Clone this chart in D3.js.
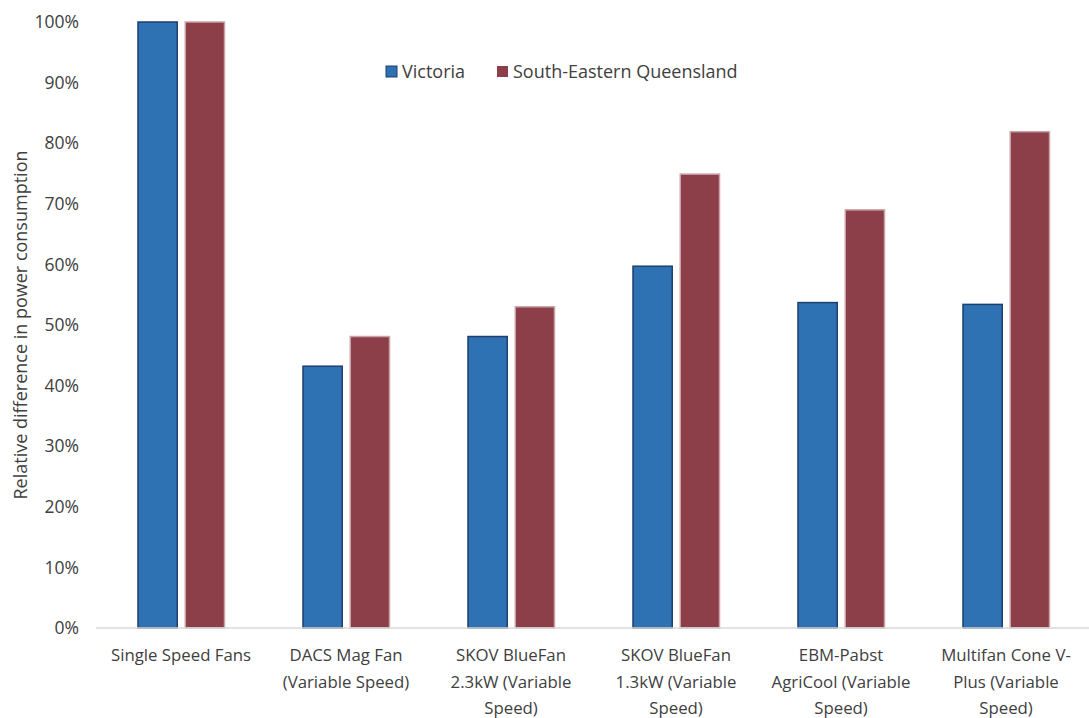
<!DOCTYPE html>
<html>
<head>
<meta charset="utf-8">
<script src="https://cdn.jsdelivr.net/npm/d3@7"></script>
<style>
  body { margin: 0; background: #fff; }
  text { font-family: "Open Sans", sans-serif; fill: #404040; }
</style>
</head>
<body>
<div id="chart"></div>
<script>
// data
const categories = [
  ["Single Speed Fans"],
  ["DACS Mag Fan", "(Variable Speed)"],
  ["SKOV BlueFan", "2.3kW (Variable", "Speed)"],
  ["SKOV BlueFan", "1.3kW (Variable", "Speed)"],
  ["EBM-Pabst", "AgriCool (Variable", "Speed)"],
  ["Multifan Cone V-", "Plus (Variable", "Speed)"]
];
const seriesNames = ["Victoria", "South-Eastern Queensland"];
const victoria = [100, 43.2, 48.1, 59.7, 53.7, 53.4];
const queensland = [100, 48.1, 53.0, 74.9, 69.0, 81.9];
const yTicks = [0, 10, 20, 30, 40, 50, 60, 70, 80, 90, 100];

const fills = ["#2e72b4", "#8c3f48"];
const strokes = ["#1d3e70", "#c9a3a7"];

let width = 1089, height = 718;

let svg = d3.select("#chart")
  .append("svg")
    .attr("width", width)
    .attr("height", height);

// scales
let x0 = d3.scaleBand()
  .domain(d3.range(categories.length))
  .range([98.5, 1088.5]);

let x1 = d3.scaleBand()
  .domain(d3.range(seriesNames.length))
  .range([39.5, 126])
  .paddingInner(0.17);

let y = d3.scaleLinear()
  .domain([0, 100])
  .range([628, 22]);

// y axis labels
let yAxis = d3.axisLeft(y)
  .tickValues(yTicks)
  .tickSize(0)
  .tickPadding(0)
  .tickFormat(d => d + "%");

svg.append("g")
  .attr("transform", "translate(79,0)")
  .call(yAxis)
  .call(g => g.select(".domain").remove())
  .selectAll("text")
    .style("font-size", "17.5px")
    .style("font-family", "'Open Sans', sans-serif")
    .attr("fill", "#404040");

// y title
svg.append("text")
  .attr("transform", "translate(27,325) rotate(-90)")
  .attr("text-anchor", "middle")
  .style("font-size", "18px")
  .text("Relative difference in power consumption");

// bars
let rows = categories.map((c, i) => [victoria[i], queensland[i]]);

let groups = svg.append("g")
  .selectAll("g")
  .data(rows)
  .join("g")
    .attr("transform", (d, i) => `translate(${x0(i)},0)`);

groups.selectAll("rect")
  .data(d => d.map((v, j) => ({v, j})))
  .join("rect")
    .attr("x", d => x1(d.j))
    .attr("y", d => y(d.v))
    .attr("width", x1.bandwidth())
    .attr("height", d => y(0) - y(d.v))
    .attr("fill", d => fills[d.j])
    .attr("stroke", d => strokes[d.j])
    .attr("stroke-width", 1.5);

// baseline
svg.append("line")
  .attr("x1", 96).attr("x2", 1089)
  .attr("y1", 628).attr("y2", 628)
  .attr("stroke", "#d9d9d9")
  .attr("stroke-width", 1.5);

// category labels
let xAxis = svg.append("g");
categories.forEach((lines, i) => {
  let cx = x0(i) + x0.bandwidth() / 2;
  let t = xAxis.append("text")
    .attr("x", cx)
    .attr("y", 661)
    .attr("text-anchor", "middle")
    .style("font-size", "16.8px");
  lines.forEach((l, k) => {
    t.append("tspan")
      .attr("x", cx)
      .attr("dy", k === 0 ? 0 : 26.5)
      .text(l);
  });
});

// legend
let legend = svg.append("g");
let legendX = [386, 497];
seriesNames.forEach((name, j) => {
  legend.append("rect")
    .attr("x", legendX[j]).attr("y", 66)
    .attr("width", 11).attr("height", 11)
    .attr("fill", fills[j])
    .attr("stroke", j === 0 ? strokes[0] : "none");
  legend.append("text")
    .attr("x", legendX[j] + 16)
    .attr("y", 78)
    .style("font-size", "18px")
    .text(name);
});
</script>
</body>
</html>
